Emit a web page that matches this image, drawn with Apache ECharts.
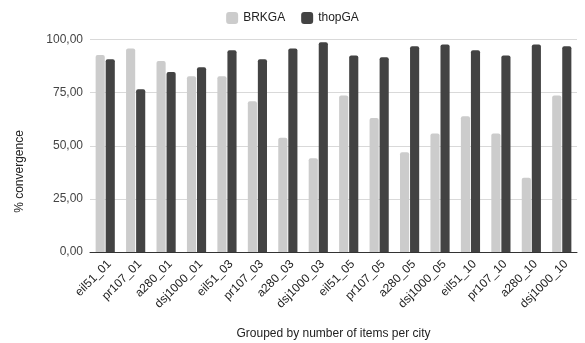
<!DOCTYPE html>
<html>
<head>
<meta charset="utf-8">
<script src="https://cdn.jsdelivr.net/npm/echarts@6/dist/echarts.min.js"></script>
<style>
  html, body { margin: 0; padding: 0; background: #fff; }
  #chart { width: 585px; height: 343px; }
</style>
</head>
<body>
<div id="chart"></div>
<script>
// Instances, grouped by number of items per city
const categories = [
  'eil51_01', 'pr107_01', 'a280_01', 'dsj1000_01',
  'eil51_03', 'pr107_03', 'a280_03', 'dsj1000_03',
  'eil51_05', 'pr107_05', 'a280_05', 'dsj1000_05',
  'eil51_10', 'pr107_10', 'a280_10', 'dsj1000_10'
];
// % convergence per algorithm
const brkga = [92.7, 95.8, 89.9, 82.7, 82.7, 70.9, 53.8, 44.1, 73.7, 63.1, 46.9, 55.8, 63.9, 55.8, 35.0, 73.7];
const thopga = [90.7, 76.6, 84.7, 86.9, 94.9, 90.7, 95.8, 98.7, 92.5, 91.6, 96.8, 97.7, 94.9, 92.5, 97.7, 96.8];
const yTicks = [0, 25, 50, 75, 100];

const font = 'Liberation Sans, Arial, sans-serif';
const chart = echarts.init(document.getElementById('chart'), null, { renderer: 'canvas' });
chart.setOption({
  animation: false,
  textStyle: { fontFamily: font },
  legend: {
    top: 7,
    left: 'center',
    itemWidth: 12,
    itemHeight: 12,
    itemGap: 16,
    icon: 'roundRect',
    textStyle: { fontSize: 12, color: '#222', fontFamily: font },
    data: ['BRKGA', 'thopGA']
  },
  grid: { left: 90, right: 8, top: 39.5, bottom: 91, containLabel: false, outerBoundsMode: 'none' },
  graphic: [{
    type: 'text',
    left: 14,
    top: 'middle',
    rotation: Math.PI / 2,
    style: { text: '% convergence', fontSize: 12, fill: '#222', fontFamily: font }
  }],
  xAxis: {
    type: 'category',
    data: categories,
    name: 'Grouped by number of items per city',
    nameLocation: 'middle',
    nameGap: 76,
    nameTextStyle: { fontSize: 12, color: '#222', fontFamily: font },
    axisTick: { show: false },
    axisLine: { lineStyle: { color: '#333', width: 1 } },
    axisLabel: {
      rotate: 45, fontSize: 12, color: '#222', margin: 6, interval: 0,
      verticalAlign: 'top', fontFamily: font
    }
  },
  yAxis: {
    type: 'value',
    min: yTicks[0],
    max: yTicks[yTicks.length - 1],
    interval: 25,
    axisLine: { show: false },
    axisTick: { show: false },
    axisLabel: {
      fontSize: 12, color: '#444', margin: 7, fontFamily: font,
      formatter: v => v.toFixed(2).replace('.', ',')
    },
    splitLine: { lineStyle: { color: '#d9d9d9', width: 1 } }
  },
  series: [
    {
      name: 'BRKGA', type: 'bar', data: brkga,
      barGap: '10%', barCategoryGap: '37%',
      itemStyle: { color: '#cccccc', borderRadius: [2, 2, 0, 0] }
    },
    {
      name: 'thopGA', type: 'bar', data: thopga,
      barGap: '10%', barCategoryGap: '37%',
      itemStyle: { color: '#434343', borderRadius: [2, 2, 0, 0] }
    }
  ]
});
</script>
</body>
</html>
